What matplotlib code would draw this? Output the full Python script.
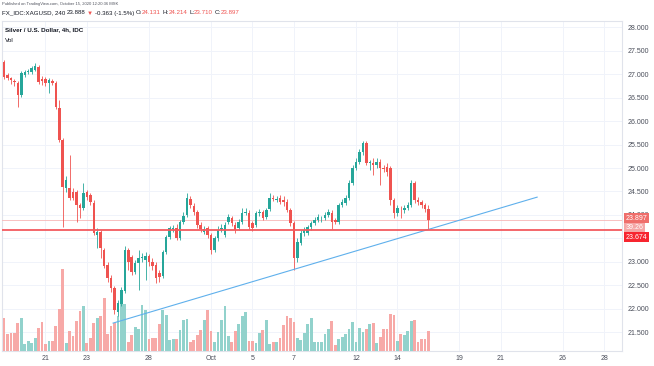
import matplotlib
matplotlib.use("Agg")
import matplotlib.pyplot as plt
import numpy as np

plt.rcParams['font.family'] = ['Liberation Sans', 'DejaVu Sans']

# XAGUSD 4h candles, Sep 16 20:00 -> Oct 15 12:00 (MSK)
opens = [27.26, 26.98, 26.91, 26.85, 26.81, 26.55, 26.98, 27.04, 27.04, 27.09,
         27.15, 26.89, 26.89, 26.81, 26.85, 26.81, 26.28, 25.60, 24.57, 24.57,
         24.49, 24.49, 24.21, 24.15, 24.49, 24.43, 24.26, 23.57, 23.64, 23.26,
         22.94, 22.66, 22.45, 21.94, 22.11, 22.38, 23.26, 23.11, 22.79, 22.98,
         23.09, 23.04, 23.13, 23.00, 22.94, 22.77, 22.70, 23.21, 23.53, 23.70,
         23.72, 23.51, 23.85, 24.00, 24.34, 24.19, 24.06, 23.79, 23.64, 23.72,
         23.57, 23.26, 23.51, 23.70, 23.57, 23.85, 23.94, 23.79, 23.72, 23.85,
         24.04, 24.04, 23.83, 23.79, 24.04, 24.06, 23.96, 24.13, 24.36, 24.32,
         24.36, 24.32, 24.28, 24.11, 23.83, 23.09, 23.40, 23.62, 23.62, 23.74,
         23.83, 23.89, 23.91, 23.94, 24.00, 24.04, 23.89, 23.85, 24.21, 24.26,
         24.36, 24.68, 25.00, 25.13, 25.34, 25.53, 25.11, 25.11, 25.06, 25.13,
         25.00, 25.02, 25.00, 24.32, 24.04, 24.13, 24.11, 24.15, 24.21, 24.68,
         24.32, 24.28, 24.21, 24.131]
closes = [26.94, 26.91, 26.87, 26.83, 26.55, 27.02, 27.04, 27.06, 27.13, 27.17,
          26.83, 26.85, 26.81, 26.87, 26.81, 26.30, 25.60, 24.60, 24.74, 24.36,
          24.36, 24.21, 24.15, 24.47, 24.38, 24.28, 23.62, 23.64, 23.30, 22.91,
          22.66, 22.45, 21.98, 22.13, 22.40, 23.26, 23.00, 22.79, 22.98, 23.09,
          23.11, 23.13, 23.00, 22.91, 22.66, 22.68, 23.21, 23.53, 23.72, 23.72,
          23.51, 23.85, 23.98, 24.36, 24.21, 24.06, 23.79, 23.70, 23.70, 23.57,
          23.26, 23.51, 23.68, 23.72, 23.79, 23.96, 23.83, 23.68, 23.85, 24.04,
          24.06, 23.74, 23.72, 24.04, 24.06, 23.94, 24.11, 24.36, 24.34, 24.34,
          24.28, 24.28, 24.11, 23.83, 23.09, 23.43, 23.62, 23.68, 23.74, 23.83,
          23.89, 23.96, 23.92, 24.00, 24.06, 23.85, 23.85, 24.21, 24.28, 24.36,
          24.68, 25.00, 25.13, 25.34, 25.53, 25.11, 25.13, 25.06, 25.13, 25.00,
          24.98, 24.91, 24.32, 24.04, 24.15, 24.12, 24.15, 24.21, 24.68, 24.32,
          24.28, 24.21, 24.13, 23.897]
highs = [27.30, 27.02, 26.94, 26.89, 26.85, 27.06, 27.09, 27.11, 27.17, 27.23,
         27.19, 26.96, 26.94, 26.91, 26.89, 26.85, 26.45, 25.64, 24.83, 25.28,
         24.57, 24.53, 24.26, 24.68, 24.53, 24.47, 24.32, 23.72, 23.68, 23.30,
         23.00, 22.72, 22.49, 22.19, 22.47, 23.34, 23.30, 23.15, 23.04, 23.26,
         23.19, 23.21, 23.17, 23.09, 23.00, 22.83, 23.26, 23.57, 23.77, 23.79,
         23.81, 23.89, 24.06, 24.47, 24.40, 24.26, 24.11, 23.85, 23.77, 23.77,
         23.62, 23.55, 23.77, 23.81, 23.85, 24.02, 23.98, 23.85, 23.91, 24.15,
         24.15, 24.11, 23.87, 24.09, 24.13, 24.11, 24.15, 24.47, 24.43, 24.40,
         24.43, 24.40, 24.34, 24.15, 23.87, 23.51, 23.68, 23.74, 23.79, 23.87,
         23.96, 24.02, 23.98, 24.06, 24.13, 24.11, 23.94, 24.26, 24.34, 24.43,
         24.74, 25.06, 25.21, 25.40, 25.57, 25.57, 25.17, 25.21, 25.21, 25.19,
         25.06, 25.11, 25.04, 24.36, 24.21, 24.19, 24.21, 24.28, 24.74, 24.72,
         24.38, 24.32, 24.26, 24.214]
lows = [26.89, 26.87, 26.79, 26.74, 26.30, 26.51, 26.94, 27.00, 27.00, 27.06,
        26.79, 26.77, 26.74, 26.60, 26.77, 26.26, 25.55, 23.74, 24.49, 24.32,
        24.32, 23.85, 23.94, 24.11, 24.32, 24.21, 23.57, 23.30, 23.09, 22.87,
        22.57, 22.36, 21.89, 21.85, 22.06, 22.34, 22.83, 22.72, 22.74, 22.40,
        23.00, 22.62, 22.91, 22.83, 22.55, 22.57, 22.66, 23.17, 23.49, 23.64,
        23.47, 23.47, 23.81, 23.96, 24.15, 24.00, 23.72, 23.64, 23.60, 23.51,
        23.17, 23.21, 23.45, 23.64, 23.53, 23.81, 23.77, 23.62, 23.68, 23.81,
        24.00, 23.70, 23.66, 23.74, 23.98, 23.89, 23.91, 24.09, 24.30, 24.28,
        24.23, 24.19, 24.06, 23.77, 22.83, 23.00, 23.36, 23.55, 23.57, 23.68,
        23.79, 23.85, 23.85, 23.89, 23.96, 23.70, 23.81, 23.81, 24.17, 24.21,
        24.32, 24.64, 24.96, 25.09, 25.28, 25.06, 24.96, 24.85, 25.00, 24.64,
        24.91, 24.83, 24.21, 23.94, 23.98, 23.94, 24.04, 24.11, 24.17, 24.26,
        24.21, 24.15, 24.06, 23.710]
volumes = [65, 33, 35, 35, 55, 65, 14, 20, 16, 25, 45, 57, 14, 20, 20, 49, 82, 161,
           16, 39, 29, 59, 78, 88, 16, 25, 55, 65, 69, 104, 33, 49, 55, 69, 102, 92,
           18, 31, 47, 43, 90, 80, 24, 25, 25, 53, 80, 71, 22, 24, 24, 41, 61, 63,
           18, 22, 31, 41, 61, 80, 39,
           18, 37, 61, 88, 29, 18, 39, 53, 69, 76, 20, 20, 16, 35, 41, 61, 14, 18,
           18, 25, 51, 69, 65, 57,
           25, 22, 35, 53, 65, 18, 18, 18, 33, 43, 59, 12, 24, 27, 33, 43, 57, 18,
           45, 37, 43, 53, 55, 16, 27, 43, 43, 73, 71, 20, 33, 31, 39, 59, 61, 18,
           24, 24, 39.26]

date_labels = ['21', '23', '28', 'Oct', '5', '7', '12', '14', '19', '21', '26', '28']
date_days = [0, 2, 5, 8, 10, 12, 15, 17, 20, 22, 25, 27]  # trading days after Sep 21
first_day_bar = 12   # candle index of Sep 21 00:00
bars_per_day = 6
price_ticks = [21.5, 22.0, 22.5, 23.0, 24.0, 24.5, 25.0, 25.5, 26.0, 26.5, 27.0, 27.5, 28.0]
grid_prices = [21.5, 22.0, 22.5, 23.0, 23.5, 24.0, 24.5, 25.0, 25.5, 26.0, 26.5, 27.0, 27.5, 28.0]
level = 23.674
last_price = 23.897
last_vol = 39.26
trend_x = [31.6, 154.5]
trend_y = [21.70, 24.38]

UP = '#26a69a'
DOWN = '#ef5350'
VUP = '#92d2cc'
VDOWN = '#f7a9a7'
DARK = '#131722'
GRID = '#f0f3fa'

W, H = 654, 366
fig = plt.figure(figsize=(W / 100, H / 100), dpi=100)
fig.patch.set_facecolor('white')
rect = [2 / W, 15 / H, 620 / W, 330 / H]
xlim = (-0.6, 179.1)
ylim = (21.106, 28.128)

# background + grid
ax_bg = fig.add_axes(rect, zorder=0)
ax_bg.set_xlim(xlim)
ax_bg.set_ylim(ylim)
tick_pos = [first_day_bar + bars_per_day * d for d in date_days]
ax_bg.set_xticks(tick_pos)
ax_bg.set_yticks(grid_prices)
ax_bg.grid(True, color=GRID, lw=0.7)
ax_bg.tick_params(length=0, labelbottom=False, labelleft=False)
for s in ax_bg.spines.values():
    s.set_color('#e0e3eb')
    s.set_linewidth(0.8)

# volume
idx = np.arange(len(opens))
o = np.array(opens)
c = np.array(closes)
up = c >= o
ax_vol = fig.add_axes(rect, zorder=1)
ax_vol.patch.set_visible(False)
ax_vol.bar(idx, volumes, width=0.8, color=np.where(up, VUP, VDOWN), linewidth=0)
ax_vol.set_xlim(xlim)
ax_vol.set_ylim(0, 647)
ax_vol.axis('off')

# price
ax = fig.add_axes(rect, zorder=2)
ax.patch.set_visible(False)
ax.set_xlim(xlim)
ax.set_ylim(ylim)
cols = np.where(up, UP, DOWN)
ax.axhline(last_price, color='#f7b7b7', lw=0.6, zorder=1)
ax.vlines(idx, lows, highs, colors=cols, lw=0.6, zorder=2)
ax.bar(idx, np.maximum(np.abs(c - o), 0.015), bottom=np.minimum(o, c), width=0.72,
       color=cols, linewidth=0, zorder=3)
ax.plot(trend_x, trend_y, color='#5fb0ec', lw=0.8, zorder=4)
ax.axhline(level, color='#f35a5f', lw=1.3, zorder=4)

ax.yaxis.tick_right()
ax.set_yticks(price_ticks)
ax.set_yticklabels([f'{v:.3f}' for v in price_ticks])
ax.set_xticks(tick_pos)
ax.set_xticklabels(date_labels)
ax.tick_params(length=0, labelsize=5, colors='#4a4e5a', pad=4)
ax.tick_params(axis='x', pad=3)
for s in ax.spines.values():
    s.set_visible(False)

# labels on the price scale (stacked like the reference)
tags = [(last_price, 1.2, f'{last_price:.3f}', '#ef6e6b'),
        (last_price, -5.8, f'{last_vol:.2f}', '#f5a6a6'),
        (last_price, -12.6, f'{level:.3f}', '#f7252f')]
for y, dy, txt, fc in tags:
    ax.annotate(txt, xy=(1.0, y), xycoords=('axes fraction', 'data'),
                xytext=(2.5, dy), textcoords='offset points', fontsize=5,
                color='white', va='center', ha='left', annotation_clip=False,
                zorder=6,
                bbox=dict(boxstyle='square,pad=0.22', fc=fc, ec='none'))

# header text
renderer = fig.canvas.get_renderer()


def text_run(x, y, parts, size, weight='normal'):
    for s, col, gap in parts:
        t = fig.text(x / W, 1 - y / H, s, fontsize=size, color=col,
                     weight=weight, va='center', ha='left')
        x = t.get_window_extent(renderer).x1 + gap


text_run(2, 4.5, [('Published on TradingView.com, October 15, 2020 12:20:36 MSK', '#50535e', 0)], 3.0)
sp = 1.5
text_run(2, 13, [('FX_IDC:XAGUSD, 240', DARK, sp), ('23.888', DARK, sp), ('▼', DOWN, sp),
                 ('-0.363 (-1.5%)', DARK, sp), ('O:', DARK, 0), ('24.131', DOWN, sp),
                 ('H:', DARK, 0), ('24.214', DOWN, sp), ('L:', DARK, 0), ('23.710', DOWN, sp),
                 ('C:', DARK, 0), ('23.897', DOWN, 0)], 4.4)
text_run(5, 30, [('Silver / U.S. Dollar, 4h, IDC', DARK, 0)], 4.5, weight='bold')
text_run(5, 40, [('Vol', DARK, 0)], 4.6)

fig.savefig('out.png', dpi=100)
